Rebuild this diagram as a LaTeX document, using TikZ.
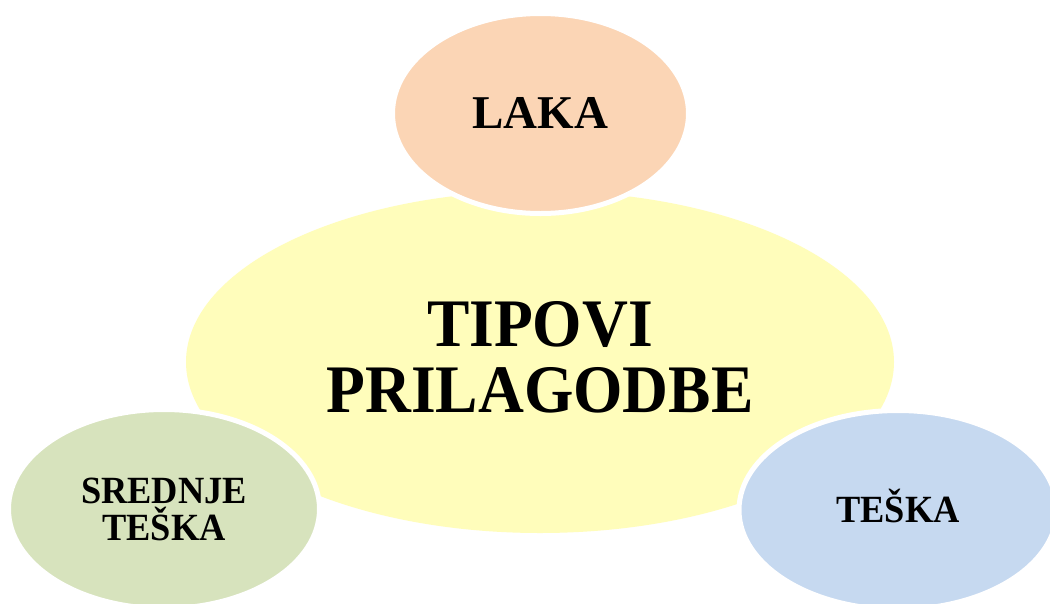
\documentclass[tikz,border=0pt]{standalone}
\usepackage{fontspec}
\setmainfont{Liberation Serif}
\usetikzlibrary{shapes.geometric}
\definecolor{cyellow}{HTML}{FFFDBB}
\definecolor{cpeach}{HTML}{FBD5B5}
\definecolor{cgreen}{HTML}{D7E3BD}
\definecolor{cblue}{HTML}{C6D9F0}
\newcommand{\cnd}[2]{\scalebox{#1}[1]{#2}}
\tikzset{
  blob/.style={ellipse, inner sep=0pt, outer sep=0pt, align=center, text=black},
  sat/.style={blob, draw=white, line width=5pt},
}
\begin{document}
\begin{tikzpicture}[x=1pt,y=-1pt]
\useasboundingbox (0,0) rectangle (1050,603);
\clip (0,0) rectangle (1050,603);
\fill[white] (0,0) rectangle (1050,603);
\node[blob, fill=cyellow, minimum width=708pt, minimum height=342pt] (center) at (540,362) {};
\node[inner sep=0pt, align=center, font={\fontsize{68}{66}\selectfont\bfseries}]
  (centertext) at (540,357.5) {\cnd{0.934}{TIPOVI}\\\cnd{0.934}{PRILAGODBE}};
\node[sat, fill=cpeach, minimum width=296pt, minimum height=200pt,
  text height=29pt, text depth=0pt,
  font={\fontsize{47}{47}\selectfont\bfseries}] (laka) at (540.5,113.5) {LAKA};
\node[sat, fill=cgreen, minimum width=311pt, minimum height=199pt,
  font={\fontsize{38.5}{37}\selectfont\bfseries}] (srednje) at (164,509)
  {\cnd{0.945}{SREDNJE}\\\cnd{0.945}{TEŠKA}};
\node[sat, fill=cblue, minimum width=318pt, minimum height=199pt,
  text height=24pt, text depth=0pt,
  font={\fontsize{38.5}{37}\selectfont\bfseries}] (teska) at (898,510) {\cnd{0.945}{TEŠKA}};
\end{tikzpicture}
\end{document}
